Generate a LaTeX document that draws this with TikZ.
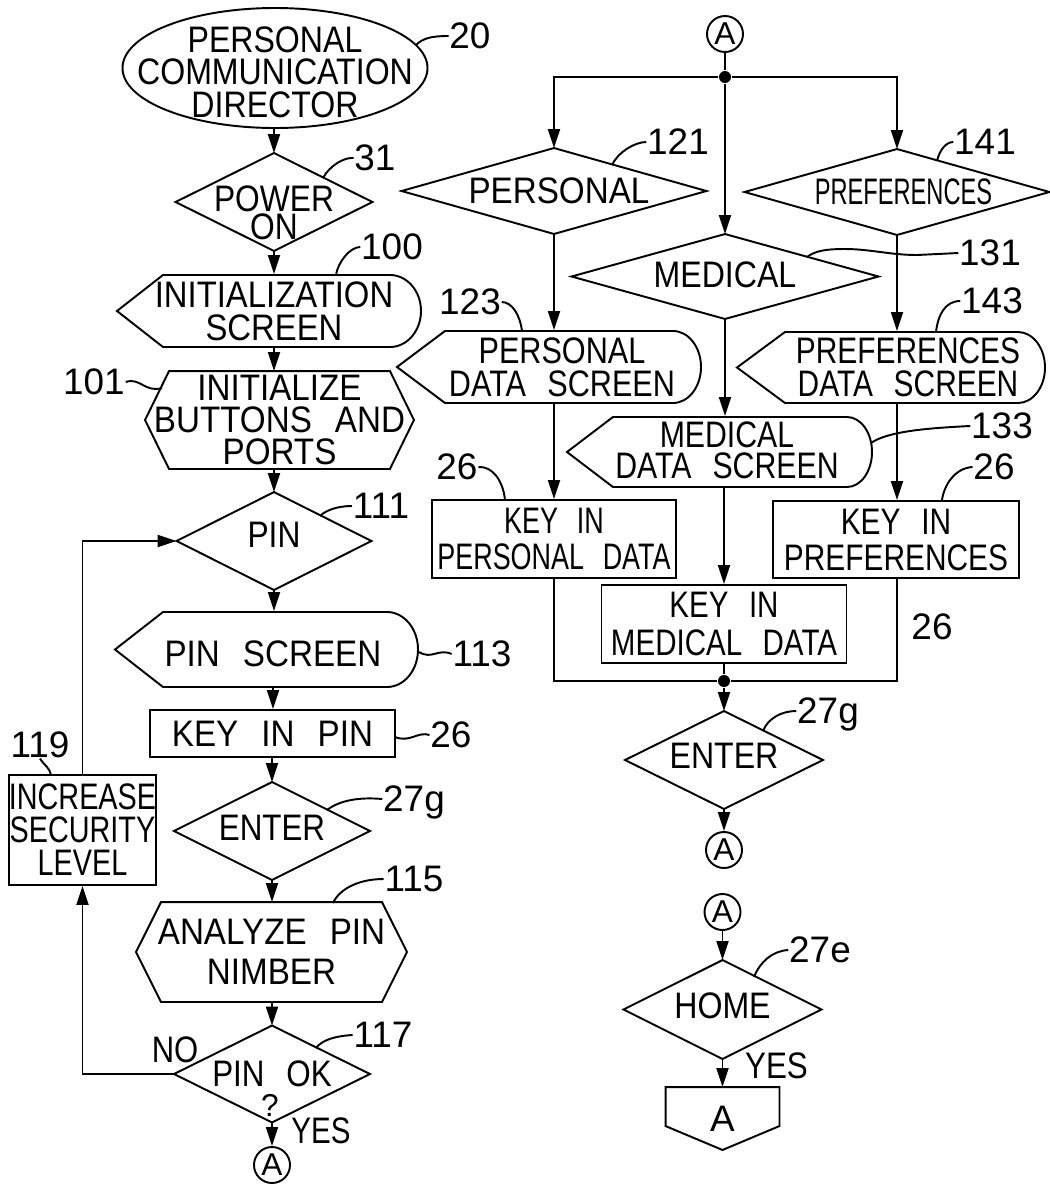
\documentclass[tikz,border=0pt]{standalone}
\usepackage{fontspec}
\setmainfont{Liberation Sans}[WordSpace=2.5]
\usetikzlibrary{arrows.meta,calc}
\newlength\pxu \setlength\pxu{0.02cm}
\newcommand\dn[1]{\rule{0pt}{\dimexpr 14.45pt+#1\pxu\relax}}
\newcommand\up[1]{\rule[-#1\pxu]{0pt}{#1\pxu}}
\newcommand\sh[1]{\hspace*{#1\pxu}}
\newcommand\diam[1]{\draw (#1.north) -- (#1.east) -- (#1.south) -- (#1.west) -- cycle;}
\newcommand\hexa[2]{\draw ($(#1.north west)+(#2,0)$) -- ($(#1.north east)+(-#2,0)$) -- (#1.east) -- ($(#1.south east)+(-#2,0)$) -- ($(#1.south west)+(#2,0)$) -- (#1.west) -- cycle;}
\newcommand\disp[6]{\draw ($(#1.center)+(#2,0)$) -- ($(#1.center)+(#3,-#6)$) -- ($(#1.center)+(#4,-#6)$) arc[start angle=-90,end angle=90,x radius=#5,y radius=#6] -- ($(#1.center)+(#3,#6)$) -- cycle;}
\tikzset{
  nbox/.style={rectangle, inner sep=0pt, align=center},
  sz/.style 2 args={minimum width=#1*0.02cm, minimum height=#2*0.02cm},
  tf/.style 2 args={font={\fontsize{21pt}{#2pt}\selectfont\addfontfeatures{FakeStretch=#1}}},
  lbl/.style={inner sep=0pt, text height=14.45pt, text depth=0pt, font={\fontsize{21pt}{21pt}\selectfont\addfontfeatures{FakeStretch=#1}}},
  lbl/.default=1,
  circ/.style={circle, draw, inner sep=0pt, minimum size=36*0.02cm, font={\fontsize{18pt}{18pt}\selectfont}},
  jdot/.style={circle, fill, inner sep=0pt, minimum size=12*0.02cm},
  arr/.style={-{Triangle[length=0.38cm,width=0.24cm]}}
}
\begin{document}
\begin{tikzpicture}[x=0.02cm, y=-0.02cm, line width=1.1pt]
\fill[white] (0,0) rectangle (1049,1184);
\path[use as bounding box] (0,0) rectangle (1049,1184);

% ---------------- left column ----------------
\node[nbox,sz={305}{120},tf={0.87}{18.5}] (pcd) at (275,68) {\dn{8}PERSONAL\\COMMUNICATION\\DIRECTOR};
\draw (pcd.center) ellipse [x radius=152.5, y radius=60];

\node[nbox,sz={195}{96},tf={0.86}{16}] (pwr) at (274,202) {\dn{22}POWER\\ON};
\diam{pwr}

\node[nbox,sz={314}{72},tf={0.89}{18.8}] (init) at (274,311) {INITIALIZATION\\SCREEN};
\disp{init}{-157}{-111}{116}{31}{36}

\node[nbox,sz={267}{96},tf={0.9}{18.2}] (prep) at (279.5,420) {INITIALIZE\\BUTTONS AND\\PORTS};
\hexa{prep}{24}

\node[nbox,sz={193}{96},tf={0.86}{18}] (pin) at (274,541) {PIN\up{12}};
\diam{pin}

\node[nbox,sz={316}{75},tf={0.9}{18}] (pinscr) at (273,649.5) {\dn{8}PIN SCREEN};
\disp{pinscr}{-158}{-110}{114}{31}{37.5}

\node[nbox,draw,sz={245}{47},tf={0.9}{18}] (keypin) at (272.5,733.5) {KEY IN PIN};

\node[nbox,sz={194}{96},tf={0.85}{18}] (ent1) at (272,831) {ENTER\up{7}};
\diam{ent1}

\node[nbox,draw,sz={147}{110},tf={0.78}{18.8}] (incr) at (82.5,830) {INCREASE\\SECURITY\\LEVEL};

\node[nbox,sz={269}{98},tf={0.9}{22.8}] (anal) at (271.5,952) {ANALYZE PIN\\NIMBER};
\hexa{anal}{25}

\node[nbox,sz={194}{95},tf={0.85}{18}] (pinok) at (272,1074) {PIN OK};
\diam{pinok}
\node[inner sep=0pt, text height=12pt, text depth=0pt, font={\fontsize{18pt}{18pt}\selectfont}] (q) at (270,1106) {?};

\node[circ] (ca1) at (272,1165) {A};

% connectors left
\draw[arr] (pwr.north |- pcd.south) -- (pwr.north);
\draw[arr] (pwr.south) -- (init.north);
\draw[arr] (init.south) -- (init.south |- prep.north);
\draw[arr] (pin.north |- prep.south) -- (pin.north);
\draw[arr] (pin.south) -- (pin.south |- pinscr.north);
\draw[arr] (pinscr.south) -- (pinscr.south |- keypin.north);
\draw[arr] (ent1.north |- keypin.south) -- (ent1.north);
\draw[arr] (ent1.south) -- (ent1.south |- anal.north);
\draw[arr] (pinok.north |- anal.south) -- (pinok.north);
\draw[arr] (pinok.south) -- (ca1.north);
\draw[arr] (pinok.west) -| (incr.south);
\draw[arr] (incr.north) |- (pin.west);

% labels left
\node[lbl] (l20) at (470,36) {20};
\node[lbl] (l31) at (375,158) {31};
\node[lbl] (l100) at (392,247) {100};
\node[lbl] (l101) at (94,382) {101};
\node[lbl] (l111) at (381,506) {111};
\node[lbl] (l113) at (482,654) {113};
\node[lbl] (l26a) at (451,735) {26};
\node[lbl] (l27g) at (414,799) {27g};
\node[lbl] (l119) at (40,745) {119};
\node[lbl] (l115) at (414,879) {115};
\node[lbl] (l117) at (383,1035) {117};
\node[lbl=0.84] (no) at (175,1050) {NO};
\node[lbl=0.8] (yes1) at (321,1131) {YES};

\draw (l20.west) .. controls (432,36) and (423,38) .. (416,45);
\draw (l31.west) .. controls (345,157) and (330,165) .. (323,178);
\draw (l100.west) .. controls (350,247) and (338,262) .. (336,275);
\draw (l101.east) .. controls (140,377) and (145,393) .. (162,388);
\draw (l111.west) .. controls (338,506) and (326,510) .. (320,516);
\draw (l113.west) .. controls (438,648) and (432,660) .. (419,652);
\draw (l26a.west) .. controls (418,731) and (410,743) .. (395,737);
\draw (l27g.west) .. controls (360,797) and (340,800) .. (327,810);
\draw (l119.south) .. controls (44,765) and (50,768) .. (51,775);
\draw (l115.west) .. controls (360,879) and (340,888) .. (333,903);
\draw (l117.west) .. controls (335,1036) and (322,1040) .. (316,1048);

% ---------------- right column ----------------
\node[circ] (ca2) at (725,34) {A};
\node[jdot] (j1) at (725,77) {};

\node[nbox,sz={303}{84},tf={0.9}{18}] (persd) at (554,191) {\sh{10}PERSONAL};
\diam{persd}
\node[nbox,sz={303}{84},tf={0.64}{18}] (prefd) at (897,192) {\sh{13}PREFERENCES};
\diam{prefd}
\node[nbox,sz={305}{83},tf={0.87}{18}] (medd) at (725,276.5) {MEDICAL\up{4}};
\diam{medd}

\node[nbox,sz={330}{72},tf={0.83}{18.8}] (persscr) at (562,367) {PERSONAL\\DATA SCREEN};
\disp{persscr}{-165}{-117}{111}{28}{36}
\node[nbox,sz={342}{71},tf={0.81}{18.8}] (prefscr) at (908,367.5) {PREFERENCES\\DATA SCREEN};
\disp{prefscr}{-171}{-123}{110}{27}{35.5}
\node[nbox,sz={320}{70},tf={0.82}{17.6}] (medscr) at (727,452) {MEDICAL\\DATA SCREEN\up{4}};
\disp{medscr}{-160}{-114}{120}{25}{35}

\node[nbox,draw,sz={244}{78},tf={0.73}{20.5}] (keyper) at (554,539) {KEY IN\\PERSONAL DATA};
\node[nbox,draw,sz={246}{77},tf={0.81}{20.5}] (keypref) at (896,539.5) {KEY IN\\PREFERENCES};
\node[nbox,draw,sz={245}{78},tf={0.8}{21.6}] (keymed) at (724,624) {KEY IN\\MEDICAL DATA};
\node[jdot] (j2) at (724,681) {};

\node[nbox,sz={196}{96},tf={0.87}{18}] (ent2) at (724,760) {ENTER\up{9}};
\diam{ent2}
\node[circ] (ca3) at (724,850) {A};
\node[circ] (ca4) at (722.5,912) {A};
\node[nbox,sz={196}{97},tf={0.87}{18}] (home) at (722.5,1009.5) {HOME\up{8}};
\diam{home}
\node[nbox,sz={112}{61},tf={1}{18}] (opc) at (722.5,1118.5) {A};
\draw (opc.north west) -- (opc.north east) -- ($(opc.north east)+(0,39)$) -- (opc.south) -- ($(opc.north west)+(0,39)$) -- cycle;

% connectors right
\draw (ca2.south) -- (j1);
\draw[arr] (j1) -| (persd.north);
\draw[arr] (j1) -| (prefd.north);
\draw[arr] (j1) -- (medd.north);
\draw[arr] (persd.south) -- (persd.south |- persscr.north);
\draw[arr] (prefd.south) -- (prefd.south |- prefscr.north);
\draw[arr] (medd.south) -- (medd.south |- medscr.north);
\draw[arr] (keyper.north |- persscr.south) -- (keyper.north);
\draw[arr] (prefd.south |- prefscr.south) -- (prefd.south |- keypref.north);
\draw[arr] (keymed.north |- medscr.south) -- (keymed.north);
\draw (keyper.south) |- (j2);
\draw (prefd.south |- keypref.south) |- (j2);
\draw (keymed.south) -- (j2);
\draw[arr] (j2) -- (ent2.north);
\draw[arr] (ent2.south) -- (ca3.north);
\draw[arr] (ca4.south) -- (home.north);
\draw[arr] (home.south) -- (opc.north);

% labels right
\node[lbl] (l121) at (678,142) {121};
\node[lbl] (l141) at (985,142) {141};
\node[lbl] (l131) at (990,253) {131};
\node[lbl] (l123) at (470,302) {123};
\node[lbl] (l143) at (992,301) {143};
\node[lbl] (l133) at (1002,426) {133};
\node[lbl] (l26b) at (457,467) {26};
\node[lbl] (l26c) at (994,467) {26};
\node[lbl] (l26d) at (932,627) {26};
\node[lbl] (l27g2) at (828,711) {27g};
\node[lbl] (l27e) at (820,950) {27e};
\node[lbl=0.85] (yes2) at (776.5,1065.5) {YES};

\draw (l121.west) .. controls (635,142) and (618,152) .. (612,165);
\draw (l141.west) .. controls (945,142) and (939,152) .. (937,161);
\draw (l131.west) -- (917,255) .. controls (890,255) and (870,249) .. (845,249) .. controls (825,249) and (815,251) .. (807,257);
\draw (l123.east) .. controls (512,302) and (520,315) .. (522,331);
\draw (l143.west) .. controls (945,301) and (938,315) .. (936,332);
\draw (l133.west) .. controls (930,428) and (888,431) .. (871,443);
\draw (l26b.east) .. controls (492,466) and (503,480) .. (505,500);
\draw (l26c.west) .. controls (955,468) and (944,485) .. (942,500);
\draw (l27g2.west) .. controls (782,711) and (768,718) .. (763,731);
\draw (l27e.west) .. controls (772,951) and (760,962) .. (754,977);
\end{tikzpicture}
\end{document}
